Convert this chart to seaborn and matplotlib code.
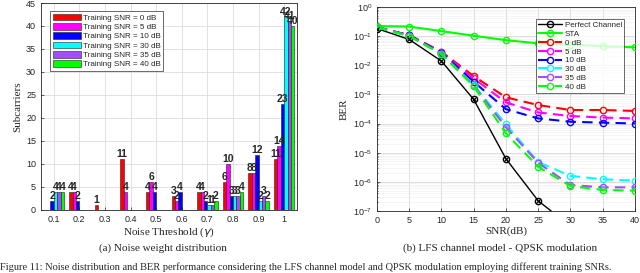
import numpy as np
import pandas as pd
import matplotlib
matplotlib.use("Agg")
import matplotlib.pyplot as plt
import seaborn as sns

# ---- data: noise weight distribution (left) ----
thresholds = ['0.1', '0.2', '0.3', '0.4', '0.5', '0.6', '0.7', '0.8', '0.9', '1']
train_snr = ['Training SNR = 0 dB', 'Training SNR = 5 dB', 'Training SNR = 10 dB',
             'Training SNR = 30 dB', 'Training SNR = 35 dB', 'Training SNR = 40 dB']
cnt_0 = [0, 4, 1, 11, 4, 3, 4, 6, 8, 11]
cnt_5 = [0, 4, 0, 4, 6, 2, 4, 10, 8, 14]
cnt_10 = [2, 2, 0, 0, 4, 4, 2, 3, 12, 23]
cnt_30 = [4, 0, 0, 0, 0, 0, 1, 3, 2, 42]
cnt_35 = [4, 0, 0, 0, 0, 0, 1, 3, 3, 41]
cnt_40 = [4, 0, 0, 0, 0, 0, 2, 4, 2, 40]

# ---- data: BER vs SNR (right) ----
snr = [0, 5, 10, 15, 20, 25, 30, 35, 40]
ber_perfect = [0.18, 0.076, 0.0138, 6.7e-4, 6.2e-6, 2.25e-7, 3e-8, np.nan, np.nan]
ber_sta = [0.22, 0.21, 0.147, 0.102, 0.072, 0.056, 0.05, 0.045, 0.041]
ber_0 = [0.2, 0.107, 0.029, 4.2e-3, 7.9e-4, 4.3e-4, 2.9e-4, 2.9e-4, 2.7e-4]
ber_5 = [0.2, 0.105, 0.028, 3.5e-3, 5.3e-4, 2.4e-4, 1.8e-4, 1.6e-4, 1.5e-4]
ber_10 = [0.2, 0.105, 0.027, 2.7e-3, 3.1e-4, 1.5e-4, 1.15e-4, 1.07e-4, 1.0e-4]
ber_30 = [0.2, 0.1, 0.025, 2.1e-3, 9.3e-5, 4.8e-6, 1.6e-6, 1.23e-6, 1.1e-6]
ber_35 = [0.2, 0.1, 0.025, 2.0e-3, 7.4e-5, 4.5e-6, 7.8e-7, 6.5e-7, 6.5e-7]
ber_40 = [0.2, 0.1, 0.024, 1.9e-3, 4.6e-5, 3.3e-6, 7.2e-7, 5.3e-7, 5.0e-7]

colors = ['#ff0000', '#ff00ff', '#0000ff', '#00ffff', '#a54cff', '#00ff00']

sns.set_theme(style='ticks')
plt.rcParams['font.family'] = ['Liberation Sans', 'DejaVu Sans']
plt.rcParams['axes.edgecolor'] = '#262626'
plt.rcParams['xtick.direction'] = 'in'
plt.rcParams['ytick.direction'] = 'in'

fig = plt.figure(figsize=(6.4, 2.73), dpi=100)
ax1 = fig.add_axes([0.064, 0.231, 0.4, 0.758])
ax2 = fig.add_axes([0.589, 0.227, 0.403, 0.748])

# left: grouped bars
rows = []
for name, vals in zip(train_snr, [cnt_0, cnt_5, cnt_10, cnt_30, cnt_35, cnt_40]):
    for t, v in zip(thresholds, vals):
        rows.append({'thr': t, 'count': v, 'snr': name})
df_bar = pd.DataFrame(rows)

sns.barplot(data=df_bar, x='thr', y='count', hue='snr', order=thresholds,
            hue_order=train_snr, palette=colors, width=0.8, saturation=1,
            edgecolor='#222222', linewidth=0.4, ax=ax1, zorder=3)
for cont in ax1.containers:
    labs = ['' if b.get_height() == 0 else f'{int(b.get_height())}' for b in cont]
    ax1.bar_label(cont, labels=labs, fontsize=7.5, fontweight='bold', padding=0)
ax1.set_xlim(-0.5, 9.5)
ax1.set_ylim(0, 45)
ax1.set_yticks(range(0, 46, 5))
ax1.grid(True, color='#dddddd', linewidth=0.6, zorder=0)
ax1.set_axisbelow(True)
ax1.tick_params(labelsize=6.5, colors='#262626', length=2, width=0.5)
ax1.set_xlabel('Noise Threshold ($\\gamma$)', family='Liberation Serif', fontsize=8, labelpad=1)
ax1.set_ylabel('Subcarriers', family='Liberation Serif', fontsize=8, labelpad=3)
for s in ax1.spines.values():
    s.set_visible(True)
    s.set_linewidth(0.6)
leg1 = ax1.legend(loc='upper left', fontsize=5.8, frameon=True, fancybox=False,
                  edgecolor='#262626', handlelength=3.5, handleheight=0.9,
                  borderpad=0.3, labelspacing=0.15, handletextpad=0.3,
                  bbox_to_anchor=(0.02, 0.98))
leg1.get_frame().set_linewidth(0.6)

# right: BER curves
series = [
    ('Perfect Channel', ber_perfect, 'black', '-'),
    ('STA', ber_sta, '#00ff00', '-'),
    ('0 dB', ber_0, colors[0], '--'),
    ('5 dB', ber_5, colors[1], '--'),
    ('10 dB', ber_10, colors[2], '--'),
    ('30 dB', ber_30, colors[3], '--'),
    ('35 dB', ber_35, colors[4], '--'),
    ('40 dB', ber_40, colors[5], '--'),
]
for name, vals, c, ls in series:
    lw = 1.0 if name == 'Perfect Channel' else 1.5
    sns.lineplot(x=snr, y=vals, ax=ax2, color=c, linestyle=ls, linewidth=lw,
                 marker='o', markersize=4.5, markerfacecolor='none',
                 markeredgecolor=c, markeredgewidth=1.0, label=name, zorder=3)
    if ls == '--':
        ax2.lines[-1].set_dashes([5, 3])
ax2.plot(snr, ber_perfect, linestyle='none', marker='x', color='black',
         markersize=3, markeredgewidth=0.8, zorder=4)
ax2.set_yscale('log')
ax2.set_xlim(0, 40)
ax2.set_ylim(1e-7, 1)
ax2.set_xticks(range(0, 41, 5))
ax2.grid(True, which='major', color='#d8d8d8', linewidth=0.6)
ax2.grid(True, which='minor', color='#eeeeee', linewidth=0.4)
ax2.set_axisbelow(True)
ax2.tick_params(which='both', labelsize=6.5, colors='#262626', length=2, width=0.5)
ax2.tick_params(which='minor', length=1)
ax2.set_xlabel('SNR(dB)', family='Liberation Serif', fontsize=8, labelpad=1)
ax2.set_ylabel('BER', family='Liberation Serif', fontsize=8, labelpad=3)
for s in ax2.spines.values():
    s.set_visible(True)
    s.set_linewidth(0.6)
leg2 = ax2.legend(loc='upper right', fontsize=5.8, frameon=True, fancybox=False,
                  edgecolor='#262626', handlelength=3.0, borderpad=0.3,
                  labelspacing=0.15, handletextpad=0.3,
                  bbox_to_anchor=(0.975, 0.96))
leg2.get_frame().set_linewidth(0.6)

fig.text(0.255, 0.09, '(a) Noise weight distribution', ha='center', va='center',
         family='Liberation Serif', fontsize=8)
fig.text(0.782, 0.09, '(b) LFS channel model - QPSK modulation', ha='center', va='center',
         family='Liberation Serif', fontsize=8)
fig.text(0.0, 0.004, 'Figure 11: Noise distribution and BER performance considering the LFS channel model and QPSK modulation employing different training SNRs.',
         ha='left', va='bottom', family='Liberation Serif', fontsize=7.5)

fig.savefig('out.png', dpi=100)
